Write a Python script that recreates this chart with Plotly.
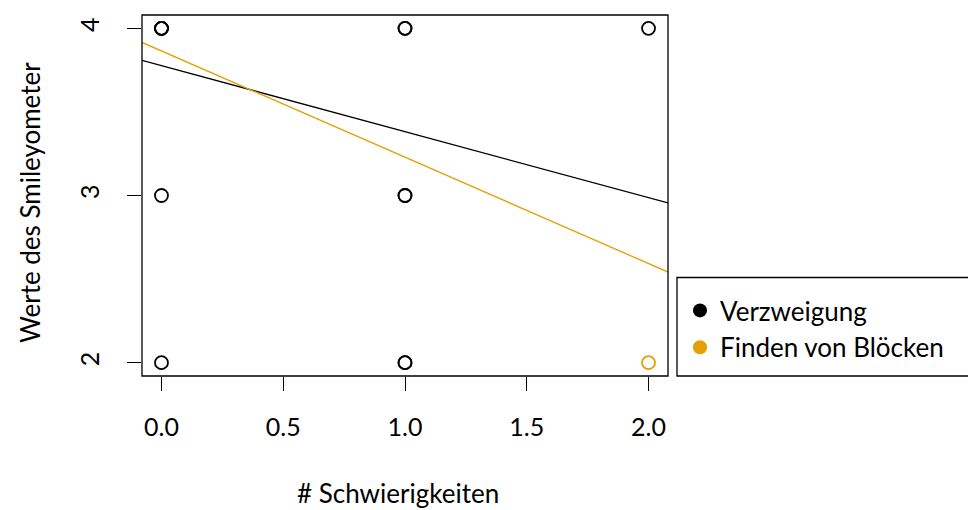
import numpy as np
import plotly.graph_objects as go

# Data
black_x = [0, 0, 0, 1, 1, 2, 0, 1, 1, 0, 1, 1]
black_y = [4, 4, 4, 4, 4, 4, 3, 3, 3, 2, 2, 2]
orange_x = [2]
orange_y = [2]
series_names = ["Verzweigung", "Finden von Blöcken"]
series_colors = ["#000000", "#E69F00"]
intercepts = [3.777, 3.865]
slopes = [-0.395, -0.636]
x_ticks = [0.0, 0.5, 1.0, 1.5, 2.0]
x_ticklabels = ["0.0", "0.5", "1.0", "1.5", "2.0"]
y_ticks = [2, 3, 4]
y_ticklabels = ["2", "3", "4"]
x_title = "# Schwierigkeiten"
y_title = "Werte des Smileyometer"

FONT = "Lato"
FS = 26

xr = [-0.08, 2.08]
yr = [1.92, 4.08]

# page has an 8px body margin; plot area in page coords spans x 142..668, y 15..376
fig = go.Figure()

xl = np.array(xr)
for b0, b1, col in zip(intercepts, slopes, series_colors):
    fig.add_trace(go.Scatter(x=xl, y=b0 + b1 * xl, mode="lines",
                             line=dict(color=col, width=1.3),
                             showlegend=False, hoverinfo="skip"))

for xs, ys, col in [(orange_x, orange_y, series_colors[1]), (black_x, black_y, series_colors[0])]:
    fig.add_trace(go.Scatter(x=xs, y=ys, mode="markers",
                             marker=dict(symbol="circle-open", size=13, color=col,
                                         line=dict(width=1.8, color=col)),
                             showlegend=False))

for name, col in zip(series_names, series_colors):
    fig.add_trace(go.Scatter(x=[None], y=[None], mode="markers", name=name,
                             marker=dict(symbol="circle", size=14, color=col)))

fig.update_layout(
    width=976, height=510,
    margin=dict(l=134, r=316, t=7, b=142, autoexpand=False),
    paper_bgcolor="white", plot_bgcolor="white",
    font=dict(family=FONT, size=FS, color="black"),
    showlegend=True,
    legend=dict(x=(680 - 142) / 526, y=(376 - 287) / 361, xanchor="left", yanchor="top",
                bgcolor="rgba(0,0,0,0)", borderwidth=0,
                font=dict(family=FONT, size=FS), itemwidth=30,
                tracegroupgap=0),
    xaxis=dict(range=xr, tickmode="array", tickvals=x_ticks, ticktext=x_ticklabels,
               showgrid=False, zeroline=False, showline=False,
               ticks="outside", ticklen=14, tickwidth=1.3, tickcolor="black",
               ticklabelstandoff=15, tickfont=dict(size=25)),
    yaxis=dict(range=yr, tickmode="array", tickvals=y_ticks, ticktext=y_ticklabels,
               showgrid=False, zeroline=False, showline=False,
               ticks="outside", ticklen=14, tickwidth=1.3, tickcolor="black",
               tickangle=-90, ticklabelstandoff=18, tickfont=dict(size=25)),
    shapes=[
        dict(type="rect", xref="paper", yref="paper", x0=0, x1=1, y0=0, y1=1,
             line=dict(color="black", width=1.3), fillcolor="rgba(0,0,0,0)"),
        dict(type="rect", xref="paper", yref="paper",
             x0=(677 - 142) / 526, x1=(990 - 142) / 526,
             y0=0, y1=(376 - 277.5) / 361,
             line=dict(color="black", width=1.3), fillcolor="rgba(0,0,0,0)"),
    ],
    annotations=[
        dict(text=x_title, xref="paper", yref="paper",
             x=(398 - 142) / 526, y=-(493 - 376) / 361,
             xanchor="center", yanchor="middle", showarrow=False,
             font=dict(family=FONT, size=FS)),
        dict(text=y_title, xref="paper", yref="paper",
             x=-(142 - 30) / 526, y=(376 - 203) / 361,
             xanchor="center", yanchor="middle", showarrow=False, textangle=-90,
             font=dict(family=FONT, size=FS)),
    ],
)

fig.write_html("out.html")
